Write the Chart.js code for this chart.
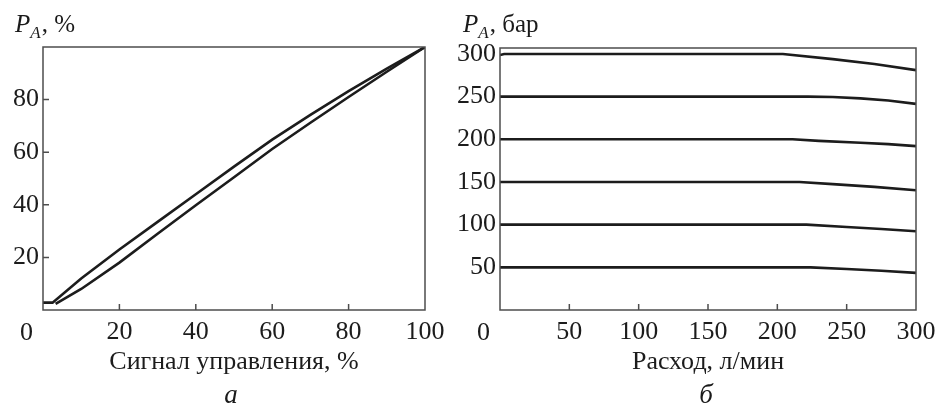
<!DOCTYPE html>
<html lang="ru">
<head>
<meta charset="utf-8">
<title>Давление P_A</title>
<script src="https://cdn.jsdelivr.net/npm/chart.js@4.4.1/dist/chart.umd.min.js"></script>
<style>
    html, body { margin: 0; padding: 0; background: #fff; }
    #page { position: relative; width: 937px; height: 405px; overflow: hidden;
            font-family: 'Liberation Serif', 'DejaVu Serif', serif; color: #1a1a1a; }
    canvas { position: absolute; top: 0; }
    #chartA { left: 0; }
    #chartB { left: 430px; }
    .ylab { position: absolute; top: 11px; font-size: 25px; line-height: 25px; white-space: nowrap; }
    .ylab i { font-style: italic; }
    .ylab .sub { position: relative; top: 6px; font-size: 17px; font-style: italic; margin-right: 1px; }
    .cap { position: absolute; top: 381px; font-size: 27px; line-height: 27px; font-style: italic;
           transform: translateX(-50%); }
</style>
</head>
<body>
<div id="page">
    <canvas id="chartA" width="460" height="405"></canvas>
    <canvas id="chartB" width="520" height="405"></canvas>
    <div class="ylab" style="left: 15px;"><i>P</i><span class="sub">A</span>, %</div>
    <div class="ylab" style="left: 463px;"><i>P</i><span class="sub">A</span>, бар</div>
    <div class="cap" style="left: 231px;">а</div>
    <div class="cap" style="left: 706px;">б</div>
</div>
<script>
// --- а: давление от сигнала управления (прямой и обратный ход) ---
const signalUp = [0, 2.5, 10, 20, 30, 40, 50, 60, 70, 80, 90, 100];
const pressureUp = [2.8, 2.8, 12, 23, 33.5, 44, 54.5, 64.8, 74.2, 83.2, 91.8, 100];
const signalDown = [3.3, 10, 20, 30, 40, 50, 60, 70, 80, 90, 100];
const pressureDown = [2.3, 8, 18, 29, 39.8, 50.5, 61.2, 71.2, 81, 90.6, 100];
const signalTicks = [20, 40, 60, 80, 100];
const percentTicks = [20, 40, 60, 80];

// --- б: давление от расхода для шести настроек ---
const flow300 = [0, 3, 204, 240, 270, 300];
const p300 = [298.8, 300, 300, 294, 288.3, 281];
const flow250 = [0, 222, 240, 260, 280, 300];
const p250 = [250, 250, 249.5, 248, 245.5, 241.5];
const flow200 = [0, 211, 230, 260, 280, 300];
const p200 = [200, 200, 198.2, 196, 194.4, 192];
const flow150 = [0, 216, 240, 270, 300];
const p150 = [150, 150, 147.5, 144.3, 140.3];
const flow100 = [0, 221, 250, 275, 300];
const p100 = [100, 100, 97.3, 95, 92.2];
const flow50 = [0, 224, 250, 275, 300];
const p50 = [50, 50, 48, 46, 43.5];
const flowTicks = [50, 100, 150, 200, 250, 300];
const barTicks = [50, 100, 150, 200, 250, 300];

const INK = '#1c1c1c';
const FRAME = '#4d4d4d';
const tickFont = { family: "'Liberation Serif', serif", size: 26 };
const titleFont = { family: "'Liberation Serif', serif", size: 26 };

const pts = (xs, ys) => xs.map((v, i) => ({ x: v, y: ys[i] }));
const curve = (xs, ys) => ({
    data: pts(xs, ys),
    borderColor: INK,
    borderWidth: 2.6,
    pointRadius: 0,
    tension: 0,
    fill: false
});
const useTicks = list => axis => { axis.ticks = list.map(v => ({ value: v })); };

// рамка, внутренние риски и общий ноль в углу
const frame = {
    id: 'frame',
    afterDraw(chart, args, opts) {
        const { ctx, chartArea: a, scales: { x, y } } = chart;
        ctx.save();
        ctx.strokeStyle = FRAME;
        ctx.lineWidth = 1.5;
        ctx.strokeRect(a.left, a.top, a.right - a.left, a.bottom - a.top);
        ctx.beginPath();
        x.ticks.forEach(t => {
            if (t.value <= x.min || t.value >= x.max) return;
            const px = x.getPixelForValue(t.value);
            ctx.moveTo(px, a.bottom);
            ctx.lineTo(px, a.bottom - 6);
        });
        if (opts.yMarks) {
            y.ticks.forEach(t => {
                const py = y.getPixelForValue(t.value);
                ctx.moveTo(a.left, py);
                ctx.lineTo(a.left + 6, py);
            });
        }
        ctx.stroke();
        ctx.fillStyle = INK;
        ctx.font = `${tickFont.size}px ${tickFont.family}`;
        ctx.textAlign = 'center';
        ctx.textBaseline = 'middle';
        ctx.fillText('0', x.getPixelForValue(0) - 16.5, a.bottom + 23);
        ctx.restore();
    }
};

function makeChart(id, datasets, sc, pad, yMarks) {
    return new Chart(document.getElementById(id), {
        type: 'line',
        data: { datasets },
        plugins: [frame],
        options: {
            responsive: false,
            animation: false,
            layout: { padding: pad },
            plugins: { legend: { display: false }, tooltip: { enabled: false }, frame: { yMarks } },
            scales: {
                x: {
                    type: 'linear', min: sc.xMin, max: sc.xMax,
                    afterBuildTicks: useTicks(sc.xTicks),
                    afterFit: ax => { ax.height = 95; },
                    grid: { display: false, drawTicks: false }, border: { display: false },
                    ticks: { color: INK, font: tickFont, padding: 7, maxRotation: 0, autoSkip: false },
                    title: { display: true, text: sc.xTitle, color: INK, font: titleFont,
                             padding: { top: 0, bottom: 27 } }
                },
                y: {
                    type: 'linear', min: sc.yMin, max: sc.yMax,
                    afterBuildTicks: useTicks(sc.yTicks),
                    afterFit: ax => { ax.width = sc.yWidth; },
                    grid: { display: false, drawTicks: false }, border: { display: false },
                    ticks: { color: INK, font: tickFont, padding: 4, autoSkip: false }
                }
            }
        }
    });
}

makeChart('chartA', [
    curve(signalUp, pressureUp),
    curve(signalDown, pressureDown)
], {
    xMin: 0, xMax: 100, xTicks: signalTicks, xTitle: 'Сигнал управления, %',
    yMin: 0, yMax: 100, yTicks: percentTicks, yWidth: 43
}, { left: 0, right: 35, top: 47, bottom: 0 }, true);

makeChart('chartB', [
    curve(flow300, p300),
    curve(flow250, p250),
    curve(flow200, p200),
    curve(flow150, p150),
    curve(flow100, p100),
    curve(flow50, p50)
], {
    xMin: 0, xMax: 300, xTicks: flowTicks, xTitle: 'Расход, л/мин',
    yMin: 0, yMax: 307, yTicks: barTicks, yWidth: 70
}, { left: 0, right: 34, top: 48, bottom: 0 }, false);
</script>
</body>
</html>
